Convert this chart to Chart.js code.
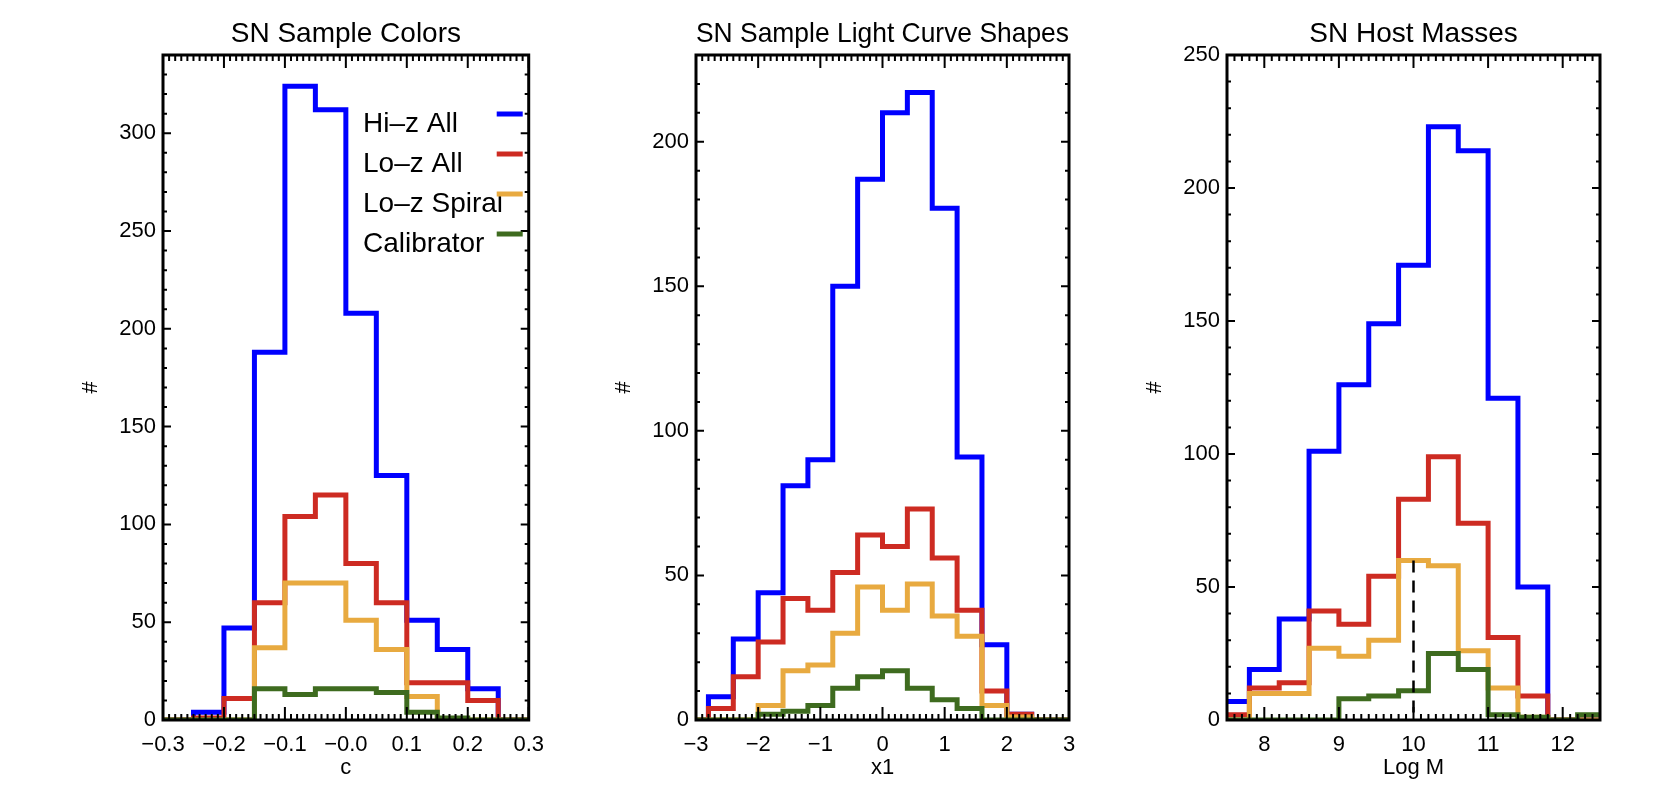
<!DOCTYPE html>
<html>
<head>
<meta charset="utf-8">
<title>SN sample histograms</title>
<script src="https://cdn.jsdelivr.net/npm/chart.js@4.4.1/dist/chart.umd.min.js"></script>
<style>
  html, body { margin: 0; background: #fff; }
  .panel { position: absolute; top: 0; }
</style>
</head>
<body>
<canvas id="colors" class="panel" width="556" height="788" style="left:0px"></canvas>
<canvas id="shapes" class="panel" width="556" height="788" style="left:533px"></canvas>
<canvas id="masses" class="panel" width="556" height="788" style="left:1064px"></canvas>
<script>
// series shared by all three panels
const seriesNames = ['Hi\u2013z All', 'Lo\u2013z All', 'Lo\u2013z Spiral', 'Calibrator']
const seriesColors = ['#0000ff', '#cd2b22', '#e8aa40', '#3e6b1f']

// panel 1: colour c
const colorEdges = [-0.3, -0.25, -0.2, -0.15, -0.1, -0.05, 0, 0.05, 0.1, 0.15, 0.2, 0.25, 0.3]
const colorHiz = [0, 4, 47, 188, 324, 312, 208, 125, 51, 36, 16, 0]
const colorLoz = [0, 1, 11, 60, 104, 115, 80, 60, 19, 19, 10, 0]
const colorSpiral = [0, 0, 0, 37, 70, 70, 51, 36, 12, 0, 0, 0]
const colorCalib = [0, 0, 0, 16, 13, 16, 16, 14, 4, 1, 0, 0]
const colorXTicks = [-0.3, -0.2, -0.1, 0, 0.1, 0.2, 0.3]
const colorXLabels = ['\u22120.3', '\u22120.2', '\u22120.1', '\u22120.0', '0.1', '0.2', '0.3']
const colorYTicks = [0, 50, 100, 150, 200, 250, 300]

// panel 2: stretch x1
const shapeEdges = [-3.2, -2.8, -2.4, -2.0, -1.6, -1.2, -0.8, -0.4, 0, 0.4, 0.8, 1.2, 1.6, 2.0, 2.4, 2.8, 3.2]
const shapeHiz = [0, 8, 28, 44, 81, 90, 150, 187, 210, 217, 177, 91, 26, 2, 0, 0]
const shapeLoz = [0, 4, 15, 27, 42, 38, 51, 64, 60, 73, 56, 38, 10, 2, 0, 0]
const shapeSpiral = [0, 0, 0, 5, 17, 19, 30, 46, 38, 47, 36, 29, 5, 1, 0, 0]
const shapeCalib = [0, 0, 0, 2, 3, 5, 11, 15, 17, 11, 7, 4, 0, 0, 0, 0]
const shapeXTicks = [-3, -2, -1, 0, 1, 2, 3]
const shapeXLabels = ['\u22123', '\u22122', '\u22121', '0', '1', '2', '3']
const shapeYTicks = [0, 50, 100, 150, 200]

// panel 3: host mass
const massEdges = [7.4, 7.8, 8.2, 8.6, 9.0, 9.4, 9.8, 10.2, 10.6, 11.0, 11.4, 11.8, 12.2, 12.6]
const massHiz = [7, 19, 38, 101, 126, 149, 171, 223, 214, 121, 50, 0, 0]
const massLoz = [2, 12, 14, 41, 36, 54, 83, 99, 74, 31, 9, 0, 0]
const massSpiral = [0, 10, 10, 27, 24, 30, 60, 58, 26, 12, 1, 0, 0]
const massCalib = [0, 0, 0, 0, 8, 9, 11, 25, 19, 2, 1, 0, 2]
const massXTicks = [8, 9, 10, 11, 12]
const massXLabels = ['8', '9', '10', '11', '12']
const massYTicks = [0, 50, 100, 150, 200, 250]
const massSplit = 10
const massSplitTop = 60

const FONT = '"Liberation Sans", Arial, Helvetica, sans-serif'
Chart.defaults.font.family = FONT
Chart.defaults.color = '#000'

function histPoints(edges, counts) {
  const pts = counts.map((c, i) => ({ x: edges[i], y: c }))
  pts.push({ x: edges[edges.length - 1], y: counts[counts.length - 1] })
  return pts
}

// IDL-style box with inward major and minor ticks on all four sides
const idlFrame = {
  id: 'idlFrame',
  afterDraw(chart, args, opts) {
    const { ctx, chartArea: a } = chart
    const x = chart.scales.x
    const y = chart.scales.y
    const steps = (min, max, step, fn) => {
      const n = Math.round((max - min) / step)
      for (let i = 0; i <= n; i++) fn(min + i * step)
    }
    const xTick = (v, len) => {
      const px = x.getPixelForValue(v)
      ctx.moveTo(px, a.bottom)
      ctx.lineTo(px, a.bottom - len)
      ctx.moveTo(px, a.top)
      ctx.lineTo(px, a.top + len)
    }
    const yTick = (v, len) => {
      const py = y.getPixelForValue(v)
      ctx.moveTo(a.left, py)
      ctx.lineTo(a.left + len, py)
      ctx.moveTo(a.right, py)
      ctx.lineTo(a.right - len, py)
    }
    ctx.save()
    ctx.strokeStyle = '#000'
    ctx.lineWidth = 2
    ctx.beginPath()
    steps(x.min, x.max, opts.xMinor, (v) => xTick(v, 6))
    x.ticks.forEach((t) => xTick(t.value, 13))
    steps(y.min, y.max, opts.yMinor, (v) => yTick(v, 4))
    y.ticks.forEach((t) => yTick(t.value, 8))
    ctx.stroke()
    ctx.lineWidth = 3
    ctx.strokeRect(a.left, a.top, a.right - a.left, a.bottom - a.top)
    ctx.restore()
  },
}

// legend: label text first, coloured line sample against the right axis
const idlKey = {
  id: 'idlKey',
  afterDraw(chart) {
    const { ctx, chartArea: a } = chart
    ctx.save()
    ctx.font = '28px ' + FONT
    ctx.textBaseline = 'middle'
    ctx.fillStyle = '#000'
    seriesNames.forEach((name, i) => {
      const ty = a.top + 69 + i * 40
      ctx.fillText(name, a.left + 200, ty)
      ctx.strokeStyle = seriesColors[i]
      ctx.lineWidth = 5
      ctx.beginPath()
      ctx.moveTo(a.right - 32, ty - 10)
      ctx.lineTo(a.right - 6, ty - 10)
      ctx.stroke()
    })
    ctx.restore()
  },
}

function makePanel(id, cfg) {
  const tickFont = { size: 22, family: FONT }
  const datasets = cfg.series.map((counts, k) => ({
    label: seriesNames[k],
    data: histPoints(cfg.edges, counts),
    borderColor: seriesColors[k],
    borderWidth: 5,
    borderJoinStyle: 'miter',
    stepped: true,
    pointRadius: 0,
    fill: false,
    order: 4 - k,
  }))
  if (cfg.extra) datasets.push(cfg.extra)

  return new Chart(document.getElementById(id), {
    type: 'line',
    data: { datasets },
    options: {
      responsive: false,
      animation: false,
      layout: { padding: { left: 0, right: 20, top: 0, bottom: 0 } },
      plugins: {
        legend: { display: false },
        tooltip: { enabled: false },
        title: {
          display: true,
          text: cfg.title,
          fullSize: false,
          color: '#000',
          font: { size: 28, family: FONT, weight: 'normal' },
          padding: { top: 17, bottom: 4.4 },
        },
        idlFrame: { xMinor: cfg.xMinor, yMinor: 10 },
      },
      scales: {
        x: {
          type: 'linear',
          min: cfg.xMin,
          max: cfg.xMax,
          grid: { display: false, drawTicks: false },
          border: { display: false },
          afterBuildTicks: (s) => { s.ticks = cfg.xTicks.map((v) => ({ value: v })) },
          afterFit: (s) => { s.height = 68 },
          ticks: {
            font: tickFont,
            padding: 12,
            maxRotation: 0,
            autoSkip: false,
            callback: (v, i) => cfg.xLabels[i],
          },
          title: { display: true, text: cfg.xTitle, font: tickFont, padding: { top: 0, bottom: 7 } },
        },
        y: {
          type: 'linear',
          min: 0,
          max: cfg.yMax,
          grid: { display: false, drawTicks: false },
          border: { display: false },
          afterBuildTicks: (s) => { s.ticks = cfg.yTicks.map((v) => ({ value: v })) },
          afterFit: (s) => { s.width = 163 },
          ticks: { font: tickFont, padding: 7, autoSkip: false, callback: (v) => String(v) },
          title: { display: true, text: '#', font: tickFont, padding: { top: 78, bottom: 0 } },
        },
      },
    },
    plugins: cfg.key ? [idlFrame, idlKey] : [idlFrame],
  })
}

makePanel('colors', {
  title: 'SN Sample Colors',
  xTitle: 'c',
  edges: colorEdges,
  series: [colorHiz, colorLoz, colorSpiral, colorCalib],
  xMin: -0.3, xMax: 0.3, xMinor: 0.01,
  xTicks: colorXTicks, xLabels: colorXLabels,
  yMax: 340, yTicks: colorYTicks,
  key: true,
})

makePanel('shapes', {
  title: 'SN Sample Light Curve Shapes',
  xTitle: 'x1',
  edges: shapeEdges,
  series: [shapeHiz, shapeLoz, shapeSpiral, shapeCalib],
  xMin: -3, xMax: 3, xMinor: 0.1,
  xTicks: shapeXTicks, xLabels: shapeXLabels,
  yMax: 230, yTicks: shapeYTicks,
})

makePanel('masses', {
  title: 'SN Host Masses',
  xTitle: 'Log M',
  edges: massEdges,
  series: [massHiz, massLoz, massSpiral, massCalib],
  xMin: 7.5, xMax: 12.5, xMinor: 0.1,
  xTicks: massXTicks, xLabels: massXLabels,
  yMax: 250, yTicks: massYTicks,
  extra: {
    label: 'split',
    data: [{ x: massSplit, y: massSplitTop }, { x: massSplit, y: 0 }],
    borderColor: '#000',
    borderWidth: 2.5,
    borderDash: [12, 8],
    pointRadius: 0,
    fill: false,
    order: 0,
  },
})
</script>
</body>
</html>
